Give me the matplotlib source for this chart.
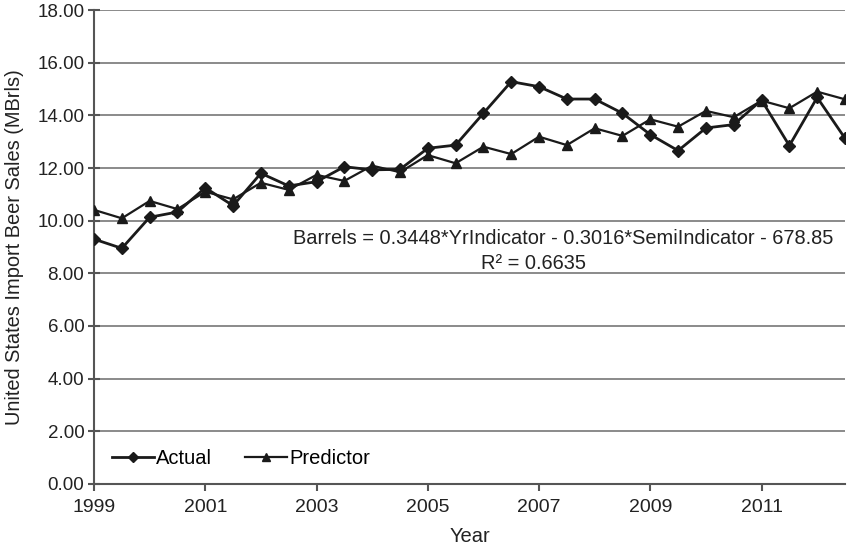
import matplotlib
matplotlib.use("Agg")
import matplotlib.pyplot as plt

plt.rcParams['font.family'] = ['Liberation Sans', 'DejaVu Sans']

years = [1999 + 0.5 * i for i in range(28)]
actual = [9.30, 8.95, 10.13, 10.33, 11.25, 10.57, 11.80, 11.32, 11.48, 12.05,
          11.93, 11.95, 12.75, 12.87, 14.08, 15.28, 15.09, 14.62, 14.62, 14.08,
          13.27, 12.66, 13.52, 13.65, 14.58, 12.85, 14.68, 13.13]
predictor = [10.41, 10.09, 10.75, 10.44, 11.10, 10.81, 11.44, 11.17, 11.74, 11.51,
             12.09, 11.84, 12.49, 12.18, 12.81, 12.53, 13.19, 12.87, 13.51, 13.22,
             13.85, 13.57, 14.17, 13.93, 14.56, 14.27, 14.90, 14.61]
xticks = [1999, 2001, 2003, 2005, 2007, 2009, 2011]
yticks = [0, 2, 4, 6, 8, 10, 12, 14, 16, 18]

fig = plt.figure(figsize=(8.5, 5.46), dpi=100)
ax = fig.add_axes([0.1106, 0.1136, 0.8835, 0.868])

ax.plot(years, actual, color='#1a1a1a', lw=2, marker='D', ms=6, label='Actual', zorder=3)
ax.plot(years, predictor, color='#1a1a1a', lw=1.6, marker='^', ms=7, label='Predictor', zorder=3)

ax.set_xlim(1999, 2012.5)
ax.set_ylim(0, 18)
ax.set_xticks(xticks)
ax.set_xticklabels([str(x) for x in xticks])
ax.set_yticks(yticks)
ax.set_yticklabels([f"{y:.2f}" for y in yticks])
ax.yaxis.grid(True, color='#8a8a8a', lw=1.4)
ax.set_axisbelow(True)
for s in ['top', 'right']:
    ax.spines[s].set_visible(False)
for s in ['left', 'bottom']:
    ax.spines[s].set_color('#555555')
    ax.spines[s].set_linewidth(1.5)
ax.tick_params(axis='y', colors='#555555', width=1.5, length=8, direction='inout',
               labelsize=13.5, labelcolor='#222222', pad=3)
ax.tick_params(axis='x', colors='#555555', width=1.5, length=5, direction='out',
               labelsize=14, labelcolor='#222222', pad=6)

ax.set_xlabel('Year', fontsize=14.5, color='#222222')
ax.set_ylabel('United States Import Beer Sales (MBrls)', fontsize=14.4, color='#222222')
ax.xaxis.set_label_coords(0.5, -0.091)
ax.yaxis.set_label_coords(-0.093, 0.5)

ax.text(2007.43, 9.34, 'Barrels = 0.3448*YrIndicator - 0.3016*SemiIndicator - 678.85',
        ha='center', va='center', fontsize=14.4, color='#222222')
ax.text(2006.9, 8.39, 'R² = 0.6635', ha='center', va='center', fontsize=14.4, color='#222222')

leg = ax.legend(loc='lower left', bbox_to_anchor=(0.0, -0.005), ncol=2, frameon=False,
                fontsize=14.5, handlelength=2.1, handletextpad=0.1, columnspacing=1.6,
                markerscale=0.8)

fig.savefig('out.png', dpi=100)
